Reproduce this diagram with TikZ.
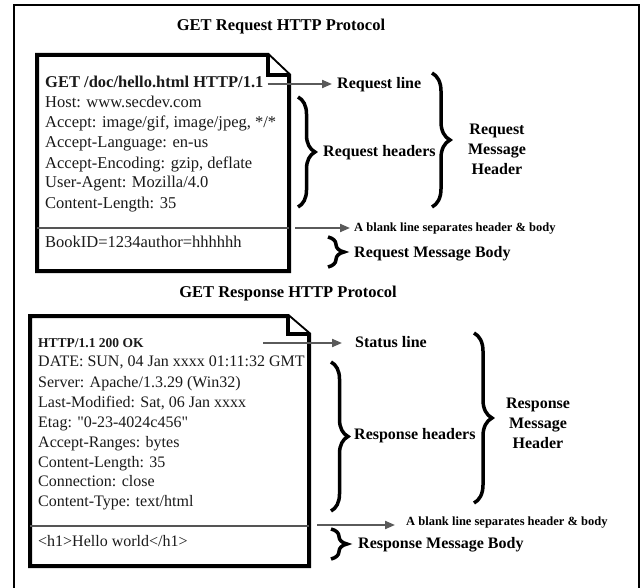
\documentclass[tikz,border=0pt]{standalone}
\usepackage{fontspec}
\setmainfont{Liberation Serif}[Ligatures=TeXOff]
\usetikzlibrary{arrows.meta,decorations.pathreplacing}
\definecolor{arrgray}{HTML}{5A5A5A}
\definecolor{sepgray}{HTML}{555555}
\definecolor{ink}{HTML}{1A1A1A}
\tikzset{
  docshape/.style={line width=4pt, line join=miter, fill=white},
  sepline/.style={line width=1.8pt, draw=sepgray},
  txt/.style={anchor=west, inner sep=0pt, text=ink, font=\fontsize{16}{20}\selectfont, text height=11.5pt, text depth=3.5pt},
  txtr/.style={txt, font=\fontsize{16.5}{20}\selectfont},
  txtb/.style={txt, font=\bfseries\fontsize{16.5}{20}\selectfont},
  lbl/.style={anchor=west, inner sep=0pt, font=\bfseries\fontsize{16}{20}\selectfont, text height=11.5pt, text depth=3.5pt},
  small/.style={anchor=west, inner sep=0pt, font=\bfseries\fontsize{12.5}{15}\selectfont, text height=9pt, text depth=3pt},
  bigl/.style={align=center, inner sep=0pt, font=\bfseries\fontsize{16}{20}\selectfont},
  title/.style={inner sep=0pt, font=\bfseries\fontsize{16.5}{20}\selectfont},
  arr/.style={draw=arrgray, line width=2pt, -{Triangle[length=10pt,width=8pt]}},
  brc/.style={decorate, decoration={brace, amplitude=#1}, line width=3.5pt},
}
\begin{document}
\begin{tikzpicture}[x=1pt,y=-1pt]
\useasboundingbox (0,0) rectangle (642,588);
% outer frame
\draw[line width=1.5pt] (14,588) -- (14,5) -- (639,5) -- (639,588);

% titles
\node[title] (t1) at (281,27) {GET Request HTTP Protocol};
\node[title] (t2) at (288,294) {GET Response HTTP Protocol};

% ---------- request document ----------
\draw[docshape] (37,55) -- (268,55) -- (289,75) -- (289,271) -- (37,271) -- cycle;
\draw[docshape] (268,55) -- (268,75) -- (289,75);
\draw[sepline] (37,228) -- (289,228);

\node[txtb] (rq0) at (45,84) {GET /doc/hello.html HTTP/1.1};
\node[txtr] (rq1) at (45,104) {Host: www.secdev.com};
\node[txtr] (rq2) at (45,124) {Accept: image/gif, image/jpeg, */*};
\node[txtr] (rq3) at (45,144) {Accept-Language: en-us};
\node[txtr] (rq4) at (45,164) {Accept-Encoding: gzip, deflate};
\node[txtr] (rq5) at (45,184) {User-Agent: Mozilla/4.0};
\node[txtr] (rq6) at (45,204) {Content-Length: 35};
\node[txtr] (rq7) at (45,243) {BookID=1234author=hhhhhh};

% request labels
\node[lbl] (lrline) at (337,85) {Request line};
\node[lbl] (lrhead) at (323,153) {Request headers};
\node[bigl] (lrmsg) at (497,149) {Request\\Message\\Header};
\node[small] (lrblank) at (354,228) {A blank line separates header \& body};
\node[lbl] (lrbody) at (354,253) {Request Message Body};

\draw[arr, shorten <=4pt, shorten >=5pt] (rq0.east) -- (rq0.east -| lrline.west);
\coordinate (rqb) at (295,228);
\draw[arr, shorten >=4pt] (rqb) -- (rqb -| lrblank.west);

\draw[brc=17pt] (298,97) -- (298,207);
\draw[brc=18pt] (432,73) -- (432,207);
\draw[brc=16pt] (328,237) -- (328,267);

% ---------- response document ----------
\draw[docshape] (30,316) -- (288,316) -- (309,334) -- (309,566) -- (30,566) -- cycle;
\draw[docshape] (288,316) -- (288,334) -- (309,334);
\draw[sepline] (30,526) -- (309,526);

\node[txt, font=\bfseries\fontsize{13.5}{20}\selectfont] (rs0) at (38,343) {HTTP/1.1 200 OK};
\node[txt] (rs1) at (38,362) {DATE: SUN, 04 Jan xxxx 01:11:32 GMT};
\node[txt] (rs2) at (38,383) {Server: Apache/1.3.29 (Win32)};
\node[txt] (rs3) at (38,403) {Last-Modified: Sat, 06 Jan xxxx};
\node[txt] (rs4) at (38,423) {Etag: "0-23-4024c456"};
\node[txt] (rs5) at (38,443) {Accept-Ranges: bytes};
\node[txt] (rs6) at (38,463) {Content-Length: 35};
\node[txt] (rs7) at (38,482) {Connection: close};
\node[txt] (rs8) at (38,502) {Content-Type: text/html};
\node[txt] (rs9) at (38,542) {<h1>Hello world</h1>};

% response labels
\node[lbl] (lsline) at (355,343) {Status line};
\node[lbl] (lshead) at (354,435) {Response headers};
\node[bigl] (lsmsg) at (538,423) {Response\\Message\\Header};
\node[small] (lsblank) at (406,522) {A blank line separates header \& body};
\node[lbl] (lsbody) at (358,544) {Response Message Body};

\coordinate (rss) at (263,343);
\draw[arr, shorten >=13pt] (rss) -- (rss -| lsline.west);
\coordinate (rsb) at (317,525);
\draw[arr, shorten >=11pt] (rsb) -- (rsb -| lsblank.west);

\draw[brc=17pt] (331,362) -- (331,511);
\draw[brc=18pt] (474,333) -- (474,503);
\draw[brc=16pt] (331,529) -- (331,559);
\end{tikzpicture}
\end{document}
